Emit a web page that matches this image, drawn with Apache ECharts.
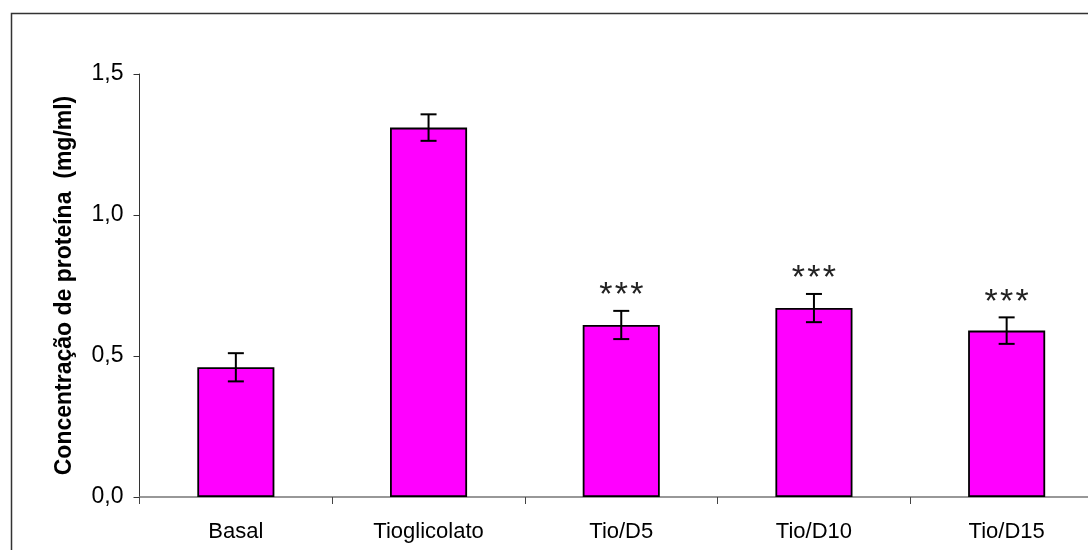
<!DOCTYPE html>
<html><head><meta charset="utf-8">
<script src="https://cdn.jsdelivr.net/npm/echarts@6/dist/echarts.min.js"></script>
<style>html,body{margin:0;padding:0;background:#fff}#c{width:1088px;height:550px}</style>
</head><body><div id="c"></div>
<script>
const categories = ['Basal', 'Tioglicolato', 'Tio/D5', 'Tio/D10', 'Tio/D15'];
const means = [0.46, 1.31, 0.61, 0.67, 0.59];
const errors = [0.05, 0.047, 0.05, 0.05, 0.047];
const signif = ['', '', '***', '***', '***'];
const yTicks = [0, 0.5, 1.0, 1.5];

const FONT = '"Liberation Sans", Arial, sans-serif';
const chart = echarts.init(document.getElementById('c'));
const errData = means.map((m, i) => [i, m - errors[i], m + errors[i]]);

chart.setOption({
  backgroundColor: '#fff',
  animation: false,
  graphic: [{
    type: 'rect', left: 9, top: 11, silent: true,
    shape: { width: 1200, height: 700 },
    style: { fill: 'none', stroke: '#333', lineWidth: 1.5 }
  }],
  grid: { left: 139.5, top: 74, width: 963.5, height: 423, outerBoundsMode: 'none', containLabel: false },
  xAxis: {
    type: 'category', data: categories,
    axisLine: { lineStyle: { color: '#777', width: 1.5 } },
    axisTick: { show: true, length: 7, lineStyle: { color: '#444', width: 1 } },
    axisLabel: { color: '#000', fontSize: 22, fontFamily: FONT, margin: 24 }
  },
  yAxis: {
    type: 'value', min: yTicks[0], max: yTicks[yTicks.length - 1], interval: 0.5,
    name: 'Concentração de proteína  (mg/ml)', nameLocation: 'middle', nameGap: 63,
    nameTextStyle: { color: '#000', fontSize: 23, fontWeight: 'bold', fontFamily: FONT },
    splitLine: { show: false },
    axisLine: { show: true, lineStyle: { color: '#333', width: 1 } },
    axisTick: { show: true, inside: false, length: 6, lineStyle: { color: '#333' } },
    axisLabel: { color: '#000', fontSize: 23, fontFamily: FONT, margin: 16,
      formatter: v => v.toFixed(1).replace('.', ',') }
  },
  series: [{
    type: 'bar', data: means, barWidth: '40%',
    itemStyle: { color: '#FF00FF', borderColor: '#000', borderWidth: 1.8 }
  }, {
    type: 'custom', data: errData, z: 5,
    renderItem: (params, api) => {
      const i = api.value(0);
      const lo = api.coord([i, api.value(1)]);
      const hi = api.coord([i, api.value(2)]);
      const cap = 8;
      const st = { stroke: '#000', lineWidth: 2 };
      const children = [
        { type: 'line', shape: { x1: hi[0], y1: hi[1], x2: lo[0], y2: lo[1] }, style: st },
        { type: 'line', shape: { x1: hi[0] - cap, y1: hi[1], x2: hi[0] + cap, y2: hi[1] }, style: st },
        { type: 'line', shape: { x1: lo[0] - cap, y1: lo[1], x2: lo[0] + cap, y2: lo[1] }, style: st }
      ];
      const s = signif[params.dataIndex];
      for (let k = 0; k < s.length; k++) {
        children.push({
          type: 'text',
          style: { text: s[k], x: hi[0] + (k - (s.length - 1) / 2) * 15.5, y: hi[1] - 15,
            fill: '#222', font: '34px ' + FONT, align: 'center', verticalAlign: 'middle' }
        });
      }
      return { type: 'group', children };
    }
  }]
});
</script></body></html>
